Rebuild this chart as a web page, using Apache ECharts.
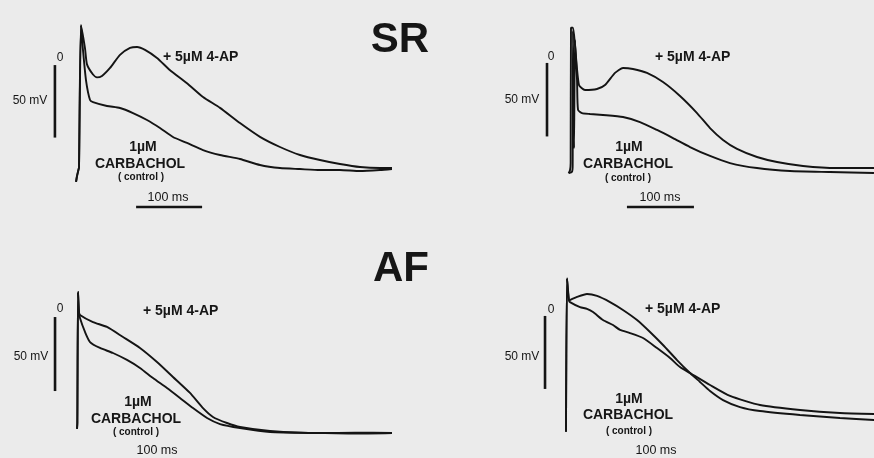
<!DOCTYPE html>
<html>
<head>
<meta charset="utf-8">
<script src="https://cdn.jsdelivr.net/npm/echarts@6/dist/echarts.min.js"></script>
<style>
html,body{margin:0;padding:0;background:#ebebeb;}
#chart{width:874px;height:458px;}
</style>
</head>
<body>
<div id="chart"></div>
<script>
// ---------- DATA (time in ms, membrane potential in mV) ----------
// SR, left cell
const sr1ApT  = [-6, -4.5, -2.5, -1.5, 1.5, 7.6, 10.6, 19.7, 25.8, 33.3, 45.5, 60.6, 75.8, 86.4, 98.5, 116.7, 136.4, 162.1, 186.4, 212.1, 242.4, 272.7, 303, 333.3, 363.6, 393.9, 424.2, 454.5, 472.7];
const sr1ApV  = [-84, -80, -76, -74, 24, 8, -3, -10, -12, -11, -5.5, 3.5, 8.3, 9, 7, 1.4, -7, -16, -25.5, -33, -43.5, -53, -60, -65.5, -69, -71.7, -73.8, -74.5, -74.5];
const sr1CtlT = [-6, -4.5, -2.5, -1.5, 1.5, 4.5, 9.1, 15.2, 19.7, 40.9, 60.6, 80.3, 101.5, 121.2, 140.9, 162.1, 186.4, 212.1, 242.4, 272.7, 303, 333.3, 363.6, 393.9, 424.2, 454.5, 472.7];
const sr1CtlV = [-84, -80, -76, -74, 24, 7, -14, -27.6, -29, -31.7, -33.1, -36.6, -41.4, -46.9, -53.1, -57.2, -62.1, -65.5, -68.3, -72.4, -74.5, -75.2, -75.9, -75.9, -76.6, -75.9, -75.2];
// SR, right cell
const sr2ApT  = [-5, -3, -2, -1.5, 1.5, 4.5, 10.4, 19.4, 37.3, 49.3, 64.2, 76.1, 91, 111.9, 135.8, 161.2, 186.6, 206, 225.4, 246.3, 276.1, 306, 344.8, 395.5, 450.7];
const sr2ApV  = [-77, -75, -70, 22, 22, 10, -17, -20.4, -19.7, -17, -8.8, -5.4, -6.1, -8.8, -15, -24.5, -36.1, -46.3, -54.4, -60.5, -66, -69.4, -72.1, -73.5, -73.5];
const sr2CtlT = [-5, 0, 1, 1.5, 3, 4.5, 7.5, 9, 14.9, 26.9, 46.3, 76.1, 101.5, 126.9, 150.7, 176.1, 206, 235.8, 276.1, 325.4, 385.1, 450.7];
const sr2CtlV = [-77, -76, -72, 20, -60, 13.6, -13.6, -34, -36.1, -36.7, -37.4, -38.8, -42.2, -47.6, -53.1, -59.2, -65.3, -70.1, -73.5, -75.5, -76.2, -76.9];
// AF, left cell
const af1ApT  = [-1.5, -1, 0, 0.5, 1.5, 3, 22.7, 43.9, 68.2, 93.9, 119.7, 143.9, 169.7, 189.4, 204.5, 225.8, 245.5, 290.9, 366.7, 420, 475.8];
const af1ApV  = [-79, -75, 13.5, 13.5, 0, -2, -6.8, -10.1, -16.9, -24.3, -33.8, -43.9, -54.7, -64.9, -70.9, -75, -77.7, -80.4, -81.8, -81.5, -81.8];
const af1CtlT = [-1.5, -1, 0, 1.5, 3, 10.6, 18.2, 33.3, 53, 74.2, 93.9, 113.6, 134.8, 154.5, 174.2, 195.5, 215.2, 245.5, 290.9, 366.7, 420, 475.8];
const af1CtlV = [-79, -75, 13.5, 0, -4.1, -13.5, -20.3, -24.3, -27.7, -32.4, -37.8, -44.6, -51.4, -58.1, -64.9, -71.6, -75.7, -78.4, -81.1, -81.8, -82.2, -81.8];
// AF, right cell
const af2ApT  = [-1.5, 0, 3, 4.5, 15.2, 30.3, 45.5, 65.2, 84.8, 106.1, 125.8, 145.5, 166.7, 186.4, 201.5, 216.7, 236.4, 262.1, 292.4, 353, 413.6, 465.2];
const af2ApV  = [-82, 23, 8, 8.2, 10.3, 12.3, 11, 6.8, 1.4, -5.5, -13.7, -22.6, -32.9, -41.8, -47.9, -54.1, -60.3, -65.1, -67.8, -70.5, -72.6, -74];
const af2CtlT = [-1.5, 0, 3, 4.5, 19.7, 30.3, 39.4, 54.5, 69.7, 80.3, 95.5, 115.2, 136.4, 156.1, 171.2, 186.4, 216.7, 247, 292.4, 353, 413.6, 465.2];
const af2CtlV = [-82, 23, 8, 6.8, 3.4, 2.1, 0, -5.5, -8.9, -12.3, -14.4, -17.8, -24.7, -31.5, -37.7, -41.8, -50, -57.5, -63.7, -67.1, -69.2, -69.9];

// scale bar lengths
const mvBar = 50;   // mV
const msBar = 100;  // ms

// labels
const groupLabels = ['SR', 'AF'];
const apLabel = '+ 5\u00b5M 4-AP';
const ctlLabel1 = '1\u00b5M';
const ctlLabel2 = 'CARBACHOL';
const ctlLabel3 = '( control )';
const mvLabel = '50 mV';
const msLabel = '100 ms';
const zeroLabel = '0';

// ---------- LAYOUT ----------
// every panel uses the full canvas as its grid; x0/y0 = pixel of (0 ms, 0 mV), sx/sy = px per ms / mV
const W = 874, H = 458, PAD = 2;
const panels = [
  {x0: 80,  y0: 60,  sx: 0.66, sy: 1.45, ap: [sr1ApT, sr1ApV], ctl: [sr1CtlT, sr1CtlV], vBar: [-38, -3.5], hBar: [85, -101.4]},
  {x0: 572, y0: 60,  sx: 0.67, sy: 1.47, ap: [sr2ApT, sr2ApV], ctl: [sr2CtlT, sr2CtlV], vBar: [-37.3, -2], hBar: [82, -100]},
  {x0: 78,  y0: 312, sx: 0.66, sy: 1.48, ap: [af1ApT, af1ApV], ctl: [af1CtlT, af1CtlV], vBar: [-34.8, -3.4], hBar: null},
  {x0: 567, y0: 312, sx: 0.66, sy: 1.46, ap: [af2ApT, af2ApV], ctl: [af2CtlT, af2CtlV], vBar: [-33.3, -2.7], hBar: null}
];

const zip = (t, v) => t.map((x, i) => [x, v[i]]);
const grids = [], xAxes = [], yAxes = [], series = [];
const traceStyle = {color: '#141414', width: 1.9};
const barStyle = {color: '#141414', width: 2.6};

panels.forEach((p, i) => {
  grids.push({left: PAD, top: PAD, width: W - 2 * PAD, height: H - 2 * PAD, containLabel: false});
  xAxes.push({type: 'value', gridIndex: i, show: false,
              min: -(p.x0 - PAD) / p.sx, max: (W - PAD - p.x0) / p.sx});
  yAxes.push({type: 'value', gridIndex: i, show: false,
              min: -(H - PAD - p.y0) / p.sy, max: (p.y0 - PAD) / p.sy});
  const common = {type: 'line', xAxisIndex: i, yAxisIndex: i, showSymbol: false, symbol: 'none', silent: true, animation: false, clip: false};
  series.push(Object.assign({}, common, {name: 'control', data: zip(p.ctl[0], p.ctl[1]), lineStyle: traceStyle, smooth: 0.2}));
  series.push(Object.assign({}, common, {name: '4-AP', data: zip(p.ap[0], p.ap[1]), lineStyle: traceStyle, smooth: 0.2}));
  series.push(Object.assign({}, common, {name: 'mVbar', data: [[p.vBar[0], p.vBar[1]], [p.vBar[0], p.vBar[1] - mvBar]], lineStyle: barStyle}));
  if (p.hBar) {
    series.push(Object.assign({}, common, {name: 'msBar', data: [[p.hBar[0], p.hBar[1]], [p.hBar[0] + msBar, p.hBar[1]]], lineStyle: barStyle}));
  }
});

const FONT = '"Liberation Sans", Arial, sans-serif';
const txt = (text, x, y, size, weight, align) => ({
  type: 'text', x: x, y: y, silent: true,
  style: {text: text, fill: '#161616', font: (weight || 'normal') + ' ' + size + 'px ' + FONT,
          textAlign: align || 'center', textVerticalAlign: 'middle'}
});

const graphics = [
  txt(groupLabels[0], 400, 40, 42, 'bold'),
  txt(groupLabels[1], 401, 269, 42, 'bold'),
  // panel 1
  txt(zeroLabel, 60, 58, 12), txt(mvLabel, 30, 101, 12),
  txt(apLabel, 163, 57, 14, 'bold', 'left'),
  txt(ctlLabel1, 143, 147, 14, 'bold'), txt(ctlLabel2, 140, 164, 14, 'bold'), txt(ctlLabel3, 141, 177, 10, 'bold'),
  txt(msLabel, 168, 198, 12.5),
  // panel 2
  txt(zeroLabel, 551, 57, 12), txt(mvLabel, 522, 100, 12),
  txt(apLabel, 655, 57, 14, 'bold', 'left'),
  txt(ctlLabel1, 629, 147, 14, 'bold'), txt(ctlLabel2, 628, 164, 14, 'bold'), txt(ctlLabel3, 628, 178, 10, 'bold'),
  txt(msLabel, 660, 198, 12.5),
  // panel 3
  txt(zeroLabel, 60, 309, 12), txt(mvLabel, 31, 357, 12),
  txt(apLabel, 143, 311, 14, 'bold', 'left'),
  txt(ctlLabel1, 138, 402, 14, 'bold'), txt(ctlLabel2, 136, 419, 14, 'bold'), txt(ctlLabel3, 136, 432, 10, 'bold'),
  txt(msLabel, 157, 451, 12.5),
  // panel 4
  txt(zeroLabel, 551, 310, 12), txt(mvLabel, 522, 357, 12),
  txt(apLabel, 645, 309, 14, 'bold', 'left'),
  txt(ctlLabel1, 629, 399, 14, 'bold'), txt(ctlLabel2, 628, 415, 14, 'bold'), txt(ctlLabel3, 629, 431, 10, 'bold'),
  txt(msLabel, 656, 451, 12.5)
];

const chart = echarts.init(document.getElementById('chart'), null, {renderer: 'canvas'});
chart.setOption({
  backgroundColor: '#ebebeb',
  animation: false,
  grid: grids,
  xAxis: xAxes,
  yAxis: yAxes,
  series: series,
  graphic: graphics
});
</script>
</body>
</html>
